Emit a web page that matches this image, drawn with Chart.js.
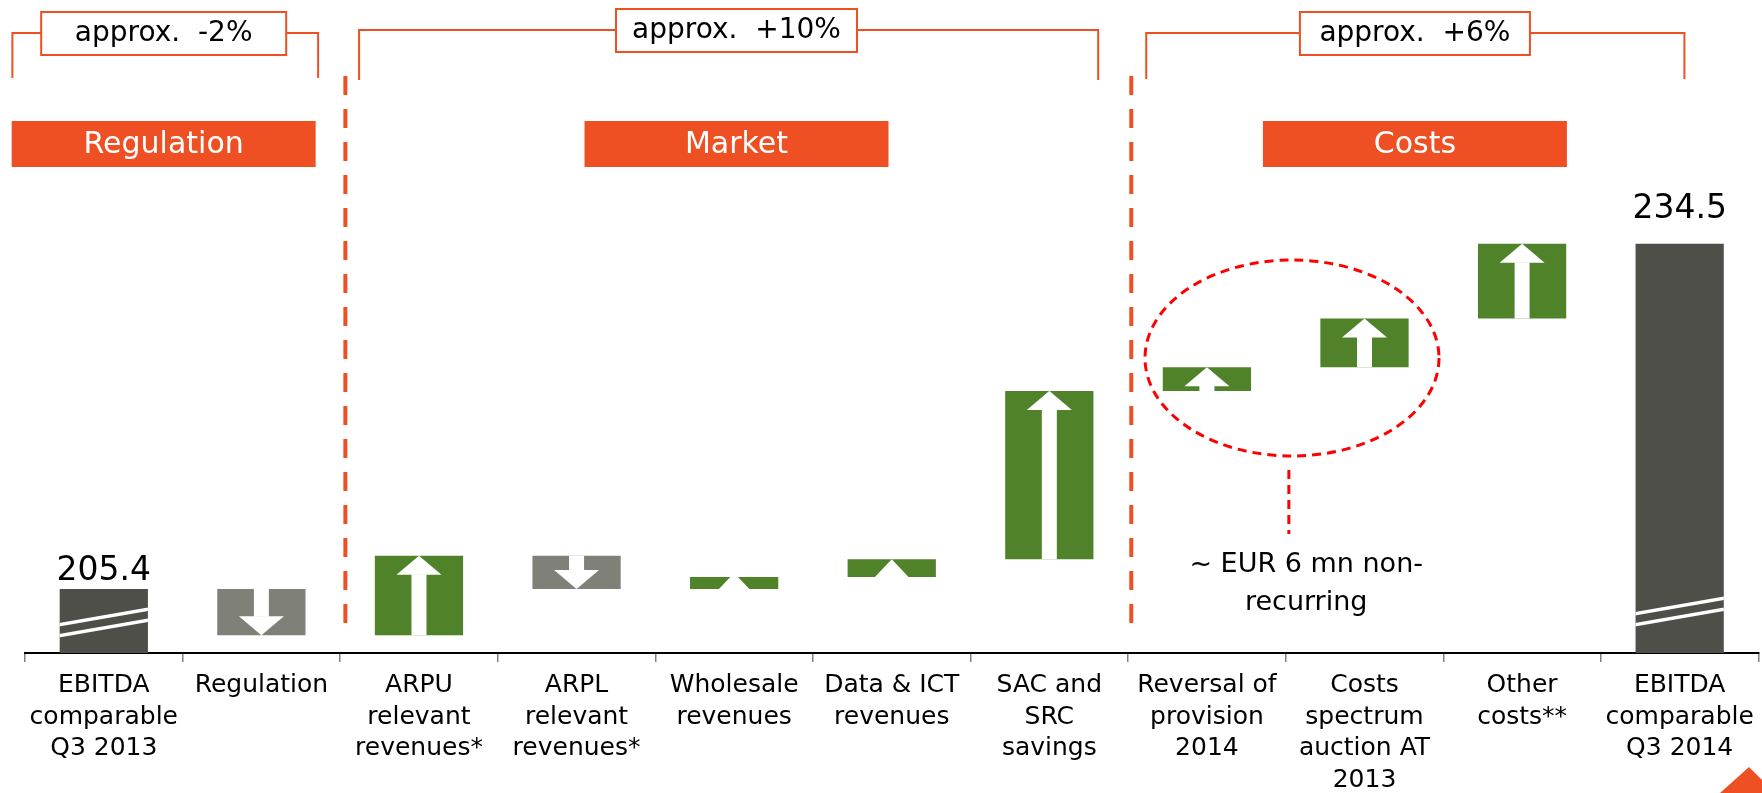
<!DOCTYPE html>
<html>
<head>
<meta charset="utf-8">
<title>EBITDA bridge Q3 2013 - Q3 2014</title>
<script src="https://cdn.jsdelivr.net/npm/chart.js@4.4.1/dist/chart.umd.min.js"></script>
<style>
    html, body { margin: 0; padding: 0; background: #fff; }
    #wrap { width: 1762px; height: 793px; }
</style>
</head>
<body>
<div id="wrap"><canvas id="bridgeChart" width="1762" height="793"></canvas></div>
<script>
(function() {
    'use strict';

    // --- data ---
    const categories = [
        ['EBITDA', 'comparable', 'Q3 2013'],
        ['Regulation'],
        ['ARPU', 'relevant', 'revenues*'],
        ['ARPL', 'relevant', 'revenues*'],
        ['Wholesale', 'revenues'],
        ['Data & ICT', 'revenues'],
        ['SAC and', 'SRC', 'savings'],
        ['Reversal of', 'provision', '2014'],
        ['Costs', 'spectrum', 'auction AT', '2013'],
        ['Other', 'costs**'],
        ['EBITDA', 'comparable', 'Q3 2014']
    ];
    const openingValue = 205.4;
    const closingValue = 234.5;
    const deltas = [-3.9, 6.7, -2.8, 1.0, 1.5, 14.2, 2.0, 4.1, 6.3];
    const axisFloor = 200;   // broken axis, bars start here
    const axisCeiling = 250;
    const sectionTitles = ['Regulation', 'Market', 'Costs'];
    const sectionChanges = ['approx.  -2%', 'approx.  +10%', 'approx.  +6%'];
    const noteLines = ['~ EUR 6 mn non-', 'recurring'];

    const FONT = '"DejaVu Sans", Verdana, sans-serif';
    const colors = {
        total: '#4f4f4a',
        up: '#4f8229',
        down: '#7f8179',
        orange: '#ef5023',
        red: '#ff0000'
    };

    // floating ranges for the waterfall
    const ranges = [[axisFloor, openingValue]];
    let running = openingValue;
    deltas.forEach(d => {
        const next = +(running + d).toFixed(1);
        ranges.push([running, next]);
        running = next;
    });
    ranges.push([axisFloor, closingValue]);

    const barColors = ranges.map((r, i) => {
        if (i === 0 || i === ranges.length - 1) return colors.total;
        return deltas[i - 1] >= 0 ? colors.up : colors.down;
    });

    function drawArrow(ctx, cx, left, right, top, bottom, up) {
        const h = bottom - top;
        ctx.save();
        ctx.beginPath();
        ctx.rect(left, top, right - left, h);
        ctx.clip();
        ctx.fillStyle = '#fff';
        let headH, headW;
        if (h >= 22) { headH = 19; headW = 45; } else { headH = Math.max(h, 16); headW = headH * 1.9; }
        const shaftW = 15;
        ctx.beginPath();
        if (up) {
            const tipY = h >= 22 ? top : bottom - headH;
            const baseY = tipY + headH;
            ctx.moveTo(cx, tipY);
            ctx.lineTo(cx + headW / 2, baseY);
            ctx.lineTo(cx - headW / 2, baseY);
            ctx.closePath();
            ctx.fill();
            if (baseY < bottom) ctx.fillRect(cx - shaftW / 2, baseY - 0.5, shaftW, bottom - baseY + 1);
        } else {
            const tipY = h >= 22 ? bottom : top + headH;
            const baseY = tipY - headH;
            ctx.moveTo(cx, tipY);
            ctx.lineTo(cx + headW / 2, baseY);
            ctx.lineTo(cx - headW / 2, baseY);
            ctx.closePath();
            ctx.fill();
            if (baseY > top) ctx.fillRect(cx - shaftW / 2, top - 1, shaftW, baseY - top + 1.5);
        }
        ctx.restore();
    }

    const decor = {
        id: 'decor',
        afterDatasetsDraw(chart) {
            const ctx = chart.ctx;
            const meta = chart.getDatasetMeta(0);
            const last = meta.data.length - 1;
            meta.data.forEach((bar, i) => {
                const p = bar.getProps(['x', 'y', 'base', 'width'], true);
                const top = Math.min(p.y, p.base);
                const bottom = Math.max(p.y, p.base);
                const left = p.x - p.width / 2;
                const right = p.x + p.width / 2;
                if (i === 0 || i === last) {
                    // axis break stripes
                    const offs = i === 0 ? [36, 25] : [47, 36];
                    ctx.save();
                    ctx.beginPath();
                    ctx.rect(left, top, right - left, bottom - top);
                    ctx.clip();
                    ctx.strokeStyle = '#fff';
                    ctx.lineWidth = 3.5;
                    offs.forEach(o => {
                        ctx.beginPath();
                        ctx.moveTo(left - 2, bottom - o + 8);
                        ctx.lineTo(right + 2, bottom - o - 8);
                        ctx.stroke();
                    });
                    ctx.restore();
                    // value label
                    const v = i === 0 ? openingValue : closingValue;
                    ctx.save();
                    ctx.font = '33px ' + FONT;
                    ctx.fillStyle = '#000';
                    ctx.textAlign = 'center';
                    ctx.textBaseline = 'alphabetic';
                    ctx.fillText(v.toFixed(1), p.x, top - (i === 0 ? 9 : 26));
                    ctx.restore();
                } else {
                    drawArrow(ctx, p.x, left, right, top, bottom, deltas[i - 1] >= 0);
                }
            });
        },
        afterDraw(chart) {
            const ctx = chart.ctx;
            const xs = chart.scales.x;
            const px = v => xs.getPixelForValue(v);

            const brackets = [
                { from: -0.58, to: 1.36, top: 33, bottom: 78 },
                { from: 1.62, to: 6.31, top: 30, bottom: 80 },
                { from: 6.615, to: 10.03, top: 33, bottom: 79 }
            ];
            const centers = [0.38, 4.015, 8.32];
            const changeW = [245, 241, 230];
            const changeTop = [12, 9, 12];

            ctx.save();
            // brackets
            ctx.strokeStyle = colors.orange;
            ctx.lineWidth = 2;
            brackets.forEach(b => {
                ctx.beginPath();
                ctx.moveTo(px(b.from), b.bottom);
                ctx.lineTo(px(b.from), b.top);
                ctx.lineTo(px(b.to), b.top);
                ctx.lineTo(px(b.to), b.bottom);
                ctx.stroke();
            });
            // "approx." boxes
            sectionChanges.forEach((txt, i) => {
                const cx = px(centers[i]);
                const w = changeW[i];
                ctx.fillStyle = '#fff';
                ctx.fillRect(cx - w / 2, changeTop[i], w, 43);
                ctx.strokeStyle = colors.orange;
                ctx.lineWidth = 2;
                ctx.strokeRect(cx - w / 2, changeTop[i], w, 43);
                ctx.fillStyle = '#000';
                ctx.font = '28px ' + FONT;
                ctx.textAlign = 'center';
                ctx.textBaseline = 'middle';
                ctx.fillText(txt, cx, changeTop[i] + 22);
            });
            // section title boxes
            sectionTitles.forEach((txt, i) => {
                const cx = px(centers[i]);
                ctx.fillStyle = colors.orange;
                ctx.fillRect(cx - 152, 121, 304, 46);
                ctx.fillStyle = '#fff';
                ctx.font = '30px ' + FONT;
                ctx.textAlign = 'center';
                ctx.textBaseline = 'middle';
                ctx.fillText(txt, cx, 145);
            });
            // dashed separators
            ctx.strokeStyle = colors.orange;
            ctx.lineWidth = 4;
            ctx.setLineDash([19, 14]);
            [1.533, 6.52].forEach(v => {
                ctx.beginPath();
                ctx.moveTo(px(v), 76);
                ctx.lineTo(px(v), 636);
                ctx.stroke();
            });
            // non-recurring ellipse + leader
            ctx.strokeStyle = colors.red;
            ctx.lineWidth = 3;
            ctx.setLineDash([9, 6]);
            ctx.beginPath();
            ctx.ellipse(px(7.54), 358, 147, 98, 0, 0, Math.PI * 2);
            ctx.stroke();
            ctx.beginPath();
            ctx.moveTo(px(7.52), 470);
            ctx.lineTo(px(7.52), 534);
            ctx.stroke();
            ctx.setLineDash([]);
            ctx.fillStyle = '#000';
            ctx.font = '27px ' + FONT;
            ctx.textAlign = 'center';
            ctx.textBaseline = 'middle';
            noteLines.forEach((t, i) => ctx.fillText(t, px(7.63), 565 + i * 38));
            // corner logo sliver
            ctx.fillStyle = colors.orange;
            ctx.beginPath();
            ctx.moveTo(1720, 793);
            ctx.lineTo(1749, 767);
            ctx.lineTo(1762, 780);
            ctx.lineTo(1762, 793);
            ctx.closePath();
            ctx.fill();
            ctx.restore();
        }
    };

    const ctx = document.getElementById('bridgeChart');
    new Chart(ctx, {
        type: 'bar',
        data: {
            labels: categories,
            datasets: [{
                data: ranges,
                backgroundColor: barColors,
                borderWidth: 0,
                categoryPercentage: 1,
                barPercentage: 0.56
            }]
        },
        options: {
            responsive: false,
            animation: false,
            layout: { padding: { top: 60, left: 25, right: 3, bottom: 0 } },
            plugins: {
                legend: { display: false },
                tooltip: { enabled: false }
            },
            scales: {
                x: {
                    offset: true,
                    grid: {
                        offset: true,
                        drawOnChartArea: false,
                        drawTicks: true,
                        tickLength: 9,
                        color: '#808080',
                        lineWidth: 1.5
                    },
                    border: { display: true, color: '#000', width: 2 },
                    ticks: {
                        autoSkip: false,
                        maxRotation: 0,
                        minRotation: 0,
                        padding: 8,
                        color: '#000',
                        font: { family: FONT, size: 25, lineHeight: 1.26 }
                    },
                    afterFit: function(scale) {
                        scale.height = 140;
                    }
                },
                y: {
                    display: false,
                    min: axisFloor,
                    max: axisCeiling
                }
            }
        },
        plugins: [decor]
    });
})();
</script>
</body>
</html>
